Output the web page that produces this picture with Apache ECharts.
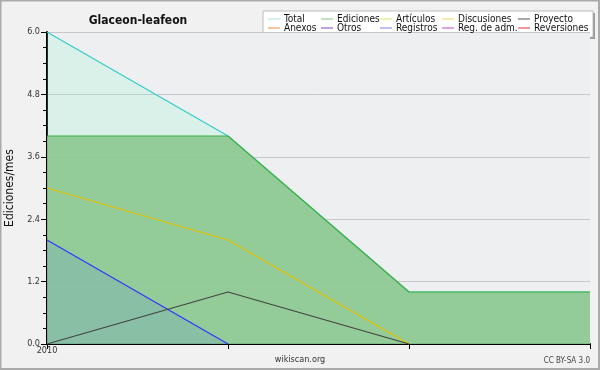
<!DOCTYPE html>
<html><head><meta charset="utf-8">
<script src="https://cdn.jsdelivr.net/npm/echarts@6/dist/echarts.min.js"></script>
<style>html,body{margin:0;padding:0;background:#f1f1f1}#c{width:600px;height:370px}</style>
</head><body><div id="c"></div>
<script>
var months = ['2010-10', '2010-11', '2010-12', '2011-01'];
var tickLabels = ['2010', '', '', ''];
var total = [6, 4, 1, 1];
var ediciones = [4, 4, 1, 1];
var registros = [2, 0, null, null];
var discusiones = [3, 2, 0, null];
var proyecto = [0, 1, 0, null];
var legendNames = ['Total', 'Ediciones', 'Artículos', 'Discusiones', 'Proyecto',
                   'Anexos', 'Otros', 'Registros', 'Reg. de adm.', 'Reversiones'];
var legendColors = ['#a8e4e4', '#80c480', '#c8f060', '#f0d060', '#555555',
                    '#f08a40', '#8040c0', '#8080f0', '#c040e0', '#e03030'];

var FONT = '"DejaVu Sans Condensed", "DejaVu Sans", sans-serif';
var chart = echarts.init(document.getElementById('c'), null, {renderer: 'canvas'});

var colX = [268, 321, 380, 442, 518];
var rowY = [14, 23];
var legends = legendNames.map(function (n, i) {
  return {
    left: colX[i % 5], top: rowY[Math.floor(i / 5)],
    padding: 0, itemWidth: 12, itemHeight: 1, icon: 'rect', itemGap: 0,
    selectedMode: false,
    textStyle: {fontFamily: FONT, fontSize: 10, color: '#111', padding: [0, 0, 0, -1]},
    data: [{name: n, itemStyle: {color: legendColors[i]}}]
  };
});

function emptySeries(name, color) {
  return {name: name, type: 'line', data: [], color: color, symbol: 'none'};
}

chart.setOption({
  backgroundColor: '#f1f1f1',
  animation: false,
  title: {
    text: 'Glaceon-leafeon', left: 133, top: 10, textAlign: 'center',
    textStyle: {fontFamily: FONT, fontSize: 12, fontWeight: 'bold', color: '#111'}
  },
  legend: legends,
  grid: {left: 47, right: 10, top: 32, bottom: 26, show: true, backgroundColor: '#eeeff1',
         borderWidth: 0, containLabel: false, outerBoundsMode: 'none'},
  xAxis: {
    type: 'category', data: months, boundaryGap: false,
    axisLine: {lineStyle: {color: '#000', width: 2}},
    axisTick: {show: true, length: 5, lineStyle: {color: '#000'}, interval: 0},
    axisLabel: {
      interval: 0, margin: 2, fontFamily: FONT, fontSize: 9, color: '#333',
      formatter: function (v, i) { return tickLabels[i]; }
    },
    splitLine: {show: false}
  },
  yAxis: {
    type: 'value', min: 0, max: 6, interval: 1.2,
    name: 'Ediciones/mes', nameLocation: 'middle', nameGap: 31, nameRotate: 90,
    nameTextStyle: {fontFamily: FONT, fontSize: 12, color: '#111'},
    axisLine: {show: true, lineStyle: {color: '#000', width: 2}},
    axisTick: {show: true, length: 6, lineStyle: {color: '#000'}},
    minorTick: {show: true, splitNumber: 4, length: 4, lineStyle: {color: '#000'}},
    axisLabel: {
      margin: 7, fontFamily: FONT, fontSize: 9, color: '#333',
      formatter: function (v) { return v.toFixed(1); }
    },
    splitLine: {show: true, lineStyle: {color: '#c8c8c8', width: 1}}
  },
  series: [
    {name: 'Total', type: 'line', data: total, symbol: 'none', color: '#33cccc',
     lineStyle: {width: 1.2, color: '#33cccc'}, areaStyle: {color: 'rgba(133,249,206,0.2)', opacity: 1}, z: 1},
    {name: 'Ediciones', type: 'line', data: ediciones, symbol: 'none', color: '#3cb043',
     lineStyle: {width: 1.2, color: '#3cb043'}, areaStyle: {color: 'rgba(139,200,143,0.9)', opacity: 1}, z: 2},
    {name: 'Registros', type: 'line', data: registros, symbol: 'none', color: '#3333ff',
     lineStyle: {width: 1.2, color: '#3333ff'}, areaStyle: {color: 'rgba(60,110,255,0.13)', opacity: 1}, z: 3},
    {name: 'Discusiones', type: 'line', data: discusiones, symbol: 'none', color: '#e8c000',
     lineStyle: {width: 1.2, color: '#e8c000'}, z: 4},
    {name: 'Proyecto', type: 'line', data: proyecto, symbol: 'none', color: '#444444',
     lineStyle: {width: 1.2, color: '#444444'}, z: 5},
    emptySeries('Artículos', '#c8f060'),
    emptySeries('Anexos', '#f08a40'),
    emptySeries('Otros', '#8040c0'),
    emptySeries('Reg. de adm.', '#c040e0'),
    emptySeries('Reversiones', '#e03030')
  ],
  graphic: [
    {type: 'rect', z: -2, silent: true, shape: {x: 265, y: 13, width: 330, height: 26},
     style: {fill: '#999999'}},
    {type: 'rect', z: -1, silent: true, shape: {x: 263, y: 11, width: 330, height: 26},
     style: {fill: '#ffffff', stroke: '#bbbbbb', lineWidth: 1}},
    {type: 'text', left: 'center', top: 355, silent: true,
     style: {text: 'wikiscan.org', fontFamily: FONT, fontSize: 9, fill: '#333'}},
    {type: 'text', right: 10, top: 357, silent: true,
     style: {text: 'CC BY-SA 3.0', fontFamily: FONT, fontSize: 8, fill: '#444'}},
    {type: 'rect', silent: true, z: 100, shape: {x: 0.5, y: 0.5, width: 598.5, height: 368.5},
     style: {fill: null, stroke: '#aaaaaa', lineWidth: 2}}
  ]
});
</script></body></html>
